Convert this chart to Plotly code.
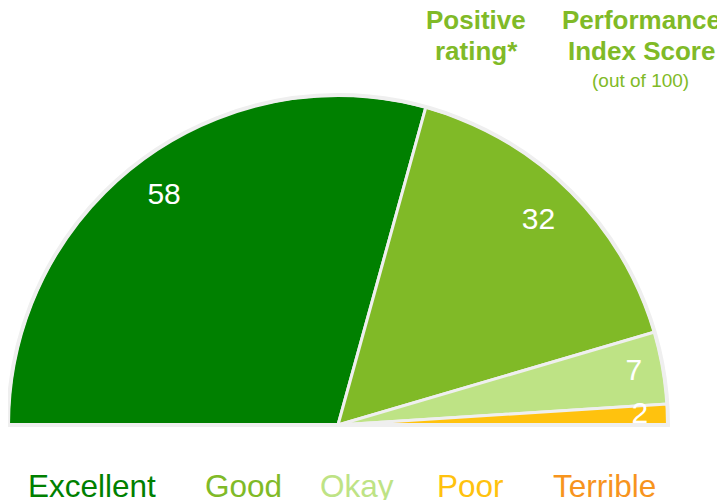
import plotly.graph_objects as go

categories = ["Excellent", "Good", "Okay", "Poor", "Terrible"]
values = [58, 32, 7, 2, 0]
value_labels = ["58", "32", "7", "2", ""]

colors = ["#008000", "#80BA27", "#BEE385", "#FFC20E", "#F7941D"]
legend_colors = ["#008000", "#80BA27", "#BEE385", "#FFC20E", "#F7941D"]
label_r = [0.87, 0.866, 0.91, 0.915, 0.9]

# page body adds an 8px margin; positions below are in figure pixels
OFF = 8
legend_x = [92, 243, 357, 470, 604]

total = sum(values)
widths = [v / total * 180 for v in values]
mids = []
acc = 0
for w in widths:
    mids.append(acc + w / 2)
    acc += w

fig = go.Figure()
fig.add_trace(go.Barpolar(
    r=[1] * len(values), theta=mids, width=widths,
    marker=dict(color=colors, line=dict(color="#EFEFEF", width=3)),
    showlegend=False, hoverinfo="skip",
))
fig.add_trace(go.Scatterpolar(
    r=label_r, theta=mids, text=value_labels, mode="text",
    textfont=dict(color="white", size=30, family="Liberation Sans, Arial"),
    showlegend=False, hoverinfo="skip", cliponaxis=False,
))

W, H = 725, 500
R = 330
cx, cy = 338 - OFF, 425 - OFF
fig.update_layout(
    width=W, height=H,
    margin=dict(l=0, r=0, t=0, b=0),
    paper_bgcolor="white", plot_bgcolor="white",
    polar=dict(
        domain=dict(x=[(cx - R) / W, (cx + R) / W],
                    y=[(H - cy) / H, (H - cy + R) / H]),
        sector=[0, 180],
        bgcolor="white",
        angularaxis=dict(direction="clockwise", rotation=180, visible=True,
                         showgrid=False, showline=True, linecolor="#EFEFEF",
                         linewidth=4, ticks="", showticklabels=False),
        radialaxis=dict(visible=False, range=[0, 1.0], showgrid=False),
    ),
    font=dict(family="Liberation Sans, Arial"),
)

def P(x, y):
    return (x - OFF) / W, (H - (y - OFF)) / H

ann = []
for c, x, col in zip(categories, legend_x, legend_colors):
    px, py = P(x, 486)
    ann.append(dict(text=c, x=px, y=py, xref="paper", yref="paper",
                    showarrow=False, xanchor="center", yanchor="middle",
                    font=dict(size=31.5, color=col, family="Liberation Sans, Arial")))
hdr = "#80BA27"
for txt, x, y, s in [("<b>Positive</b>", 476, 20, 26), ("<b>rating*</b>", 476, 51, 26),
                     ("<b>Performance</b>", 641, 20, 26), ("<b>Index Score</b>", 641, 51, 26),
                     ("(out of 100)", 640, 80, 19)]:
    px, py = P(x, y)
    ann.append(dict(text=txt, x=px, y=py, xref="paper", yref="paper",
                    showarrow=False, xanchor="center", yanchor="middle",
                    font=dict(size=s, color=hdr)))
fig.update_layout(annotations=ann)

fig.write_html("out.html")
